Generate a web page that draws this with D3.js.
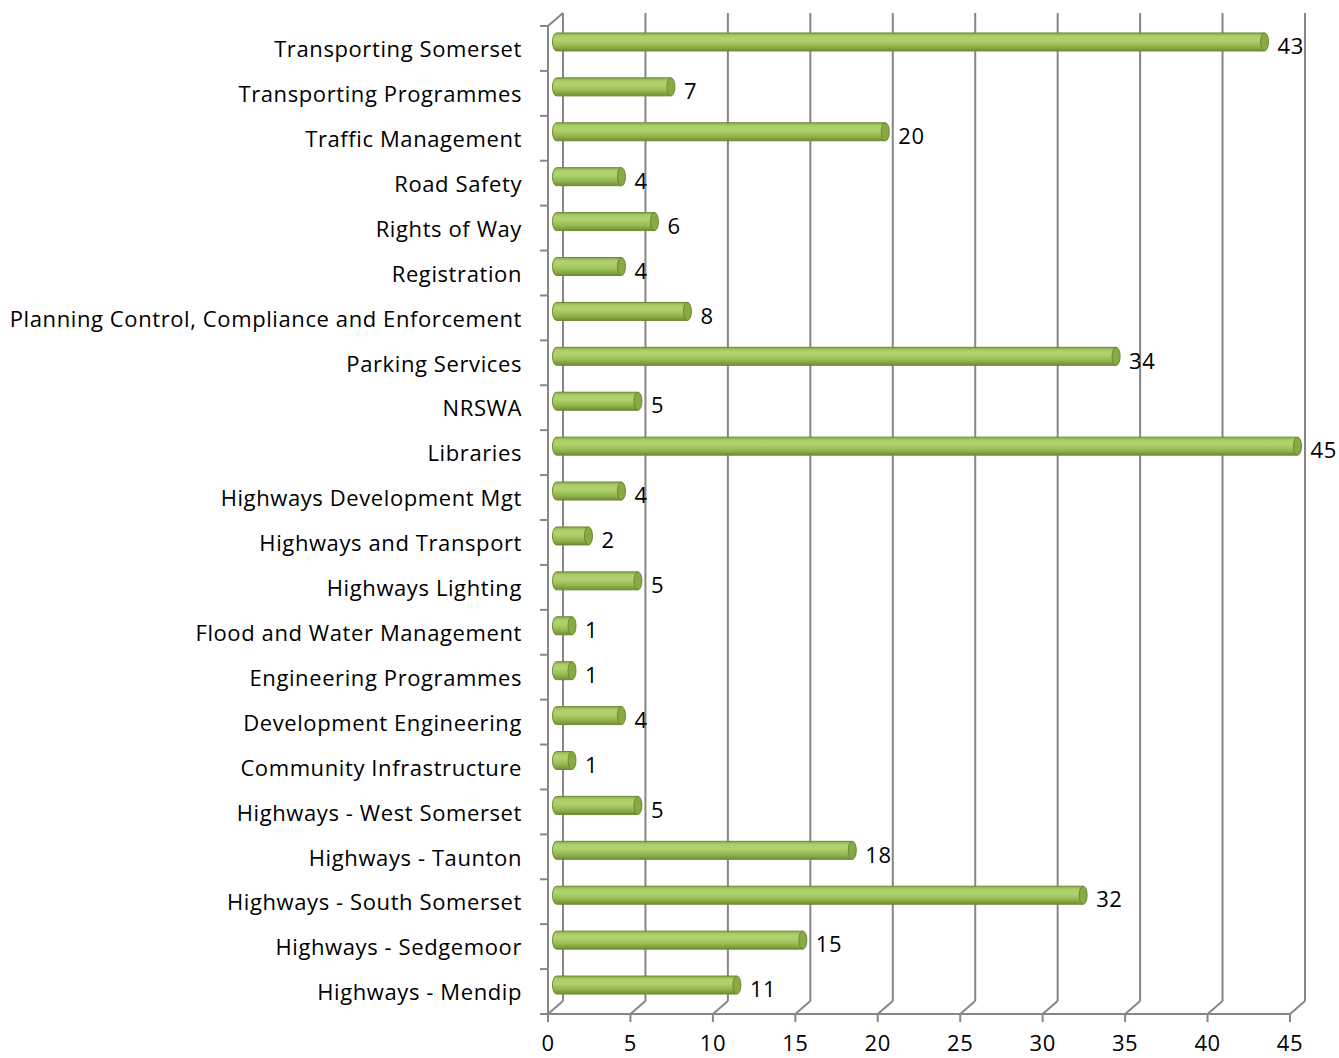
<!DOCTYPE html>
<meta charset="utf-8">
<style>
    body { margin: 0; background: #fff; }
    text { font-family: "Open Sans", sans-serif; font-size: 22px; letter-spacing: 0.6px; fill: #000; }
    .grid line, .frame path { stroke: #868686; stroke-width: 2; fill: none; }
</style>

<svg width="1339" height="1058"></svg>

<script src="https://d3js.org/d3.v7.min.js"></script>

<script>
var categories = [
    "Transporting Somerset", "Transporting Programmes", "Traffic Management",
    "Road Safety", "Rights of Way", "Registration",
    "Planning Control, Compliance and Enforcement", "Parking Services", "NRSWA",
    "Libraries", "Highways Development Mgt", "Highways and Transport",
    "Highways Lighting", "Flood and Water Management", "Engineering Programmes",
    "Development Engineering", "Community Infrastructure", "Highways - West Somerset",
    "Highways - Taunton", "Highways - South Somerset", "Highways - Sedgemoor",
    "Highways - Mendip"
];
var values = [43, 7, 20, 4, 6, 4, 8, 34, 5, 45, 4, 2, 5, 1, 1, 4, 1, 5, 18, 32, 15, 11];
var xTicks = [0, 5, 10, 15, 20, 25, 30, 35, 40, 45];

var svg = d3.select("svg");
var x = d3.scaleLinear().domain([0, 45]).range([548, 1290]);
var y = d3.scaleBand().domain(categories).range([26, 1014]);
// depth of the 3d floor / wall
var dx = 15, dy = -13;
var barH = 18;

var defs = svg.append("defs");
var grad = defs.append("linearGradient")
    .attr("id", "cyl").attr("x1", 0).attr("y1", 0).attr("x2", 0).attr("y2", 1);
[["0%", "#8aab46"], ["18%", "#acce6b"], ["40%", "#b1d26f"], ["70%", "#98ba53"], ["100%", "#718f34"]]
    .forEach(function(s) { grad.append("stop").attr("offset", s[0]).attr("stop-color", s[1]); });

// back wall gridlines
var grid = svg.append("g").attr("class", "grid");
grid.selectAll("line.v").data(xTicks).enter().append("line")
    .attr("x1", function(d) { return x(d) + dx; })
    .attr("x2", function(d) { return x(d) + dx; })
    .attr("y1", 26 + dy)
    .attr("y2", 1014 + dy);
grid.selectAll("line.d").data(xTicks).enter().append("line")
    .attr("x1", function(d) { return x(d); })
    .attr("x2", function(d) { return x(d) + dx; })
    .attr("y1", 1014)
    .attr("y2", 1014 + dy);

// front axes
var frame = svg.append("g").attr("class", "frame");
frame.append("path").attr("d", "M" + (548 + dx) + "," + (26 + dy) + "L548,26V1014H" + x(45));
frame.selectAll("path.yt").data(d3.range(categories.length + 1)).enter().append("path")
    .attr("d", function(i) { var yy = 26 + i * y.step(); return "M540," + yy + "H548"; });
frame.selectAll("path.xt").data(xTicks).enter().append("path")
    .attr("d", function(d) { return "M" + x(d) + ",1014V1022"; });

// cylinders at mid depth
var bars = svg.append("g").selectAll("g").data(categories).enter().append("g");
var ox = dx / 2, oy = dy / 2;
var rx = 4, ry = barH / 2;
bars.append("path")
    .attr("d", function(d, i) {
        var x0 = x(0) + ox - 3, x1 = x(values[i]) + ox;
        var cy = y(d) + y.bandwidth() / 2 + oy;
        return "M" + (x0 + rx) + "," + (cy - ry) + "H" + x1 +
            "V" + (cy + ry) + "H" + (x0 + rx) +
            "A" + rx + "," + ry + " 0 0 1 " + (x0 + rx) + "," + (cy - ry) + "Z";
    })
    .attr("fill", "url(#cyl)")
    .attr("stroke", "#6a8a2e")
    .attr("stroke-width", 1);
bars.append("ellipse")
    .attr("cx", function(d, i) { return x(values[i]) + ox; })
    .attr("cy", function(d) { return y(d) + y.bandwidth() / 2 + oy; })
    .attr("rx", rx).attr("ry", ry)
    .attr("fill", "#88a943")
    .attr("stroke", "#6a8a2e")
    .attr("stroke-width", 1);

// value labels
bars.append("text")
    .attr("x", function(d, i) { return x(values[i]) + ox + 13; })
    .attr("y", function(d) { return y(d) + y.bandwidth() / 2 - 2; })
    .attr("dy", "0.35em")
    .text(function(d, i) { return values[i]; });

// category labels
svg.append("g").selectAll("text").data(categories).enter().append("text")
    .attr("x", 522)
    .attr("y", function(d) { return y(d) + y.bandwidth() / 2 + 1; })
    .attr("dy", "0.35em")
    .attr("text-anchor", "end")
    .text(function(d) { return d; });

// x tick labels
svg.append("g").selectAll("text").data(xTicks).enter().append("text")
    .attr("x", function(d) { return x(d); })
    .attr("y", 1051)
    .attr("text-anchor", "middle")
    .text(function(d) { return d; });
</script>
